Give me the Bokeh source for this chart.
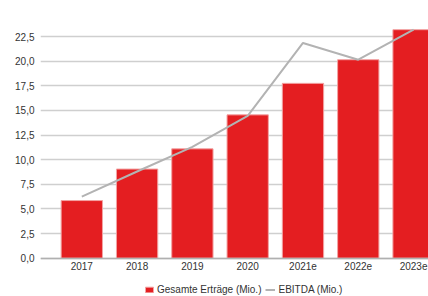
from bokeh.plotting import figure
from bokeh.models import (ColumnDataSource, FixedTicker, CustomJSTickFormatter,
                          Range1d, Legend, LegendItem)
from bokeh.embed import file_html
from bokeh.resources import INLINE

# ---- data ----
years = ["2017", "2018", "2019", "2020", "2021e", "2022e", "2023e"]
ertraege = [5.85, 9.05, 11.1, 14.55, 17.75, 20.15, 23.2]
ebitda = [6.25, 8.8, 11.3, 14.45, 21.85, 20.15, 23.2]
y_ticks = [0.0, 2.5, 5.0, 7.5, 10.0, 12.5, 15.0, 17.5, 20.0, 22.5]

xs = list(range(len(years)))
src = ColumnDataSource(dict(x=xs, ertraege=ertraege, ebitda=ebitda))

FONT = "Liberation Sans"
p = figure(frame_width=388, frame_height=288, output_backend="svg", toolbar_location=None,
           x_range=Range1d(-0.747, 6.27), y_range=Range1d(-3.89, 25.35),
           min_border_left=40, min_border_right=0, min_border_top=8,
           min_border_bottom=0)
p.outline_line_color = None
p.background_fill_color = "white"
p.border_fill_color = "white"

bars = p.vbar(x="x", top="ertraege", bottom=0, width=0.747, source=src,
              fill_color="#e41e21", line_color="#f2a3a3", line_width=1)
line = p.line(x="x", y="ebitda", source=src, line_color="#b3b3b3", line_width=2)

# axes
p.xaxis.fixed_location = 0
p.xaxis.ticker = FixedTicker(ticks=xs)
p.xaxis.major_label_overrides = {i: y for i, y in enumerate(years)}
p.xaxis.axis_line_color = "#b0b0b0"
p.xaxis.axis_line_width = 1.5
p.xaxis.major_tick_line_color = None
p.xaxis.minor_tick_line_color = None
p.xaxis.major_tick_out = 0
p.xaxis.major_tick_in = 0
p.xaxis.axis_label_standoff = 0
p.xaxis.major_label_standoff = 4
p.xaxis.major_label_text_font = FONT
p.xaxis.major_label_text_font_size = "10px"
p.xaxis.major_label_text_color = "#333333"

p.yaxis.ticker = FixedTicker(ticks=y_ticks)
p.yaxis.formatter = CustomJSTickFormatter(code="return tick.toFixed(1).replace('.', ',');")
p.yaxis.axis_line_color = None
p.yaxis.major_tick_line_color = None
p.yaxis.minor_tick_line_color = None
p.yaxis.major_tick_out = 0
p.yaxis.major_tick_in = 0
p.yaxis.major_label_standoff = 6
p.yaxis.major_label_text_font = FONT
p.yaxis.major_label_text_font_size = "10px"
p.yaxis.major_label_text_color = "#333333"

p.xgrid.grid_line_color = None
p.ygrid.grid_line_color = "#cfcfcf"
p.ygrid.grid_line_width = 1.5

legend = Legend(items=[LegendItem(label="Gesamte Erträge (Mio.)", renderers=[bars]),
                       LegendItem(label="EBITDA (Mio.)", renderers=[line])],
                orientation="horizontal", location=(104, 1),
                label_text_font=FONT, label_text_font_size="10px",
                label_text_color="#333333", glyph_width=10, glyph_height=7,
                label_height=10, label_standoff=3, spacing=4, padding=1, margin=0,
                border_line_color=None, background_fill_alpha=0)
p.add_layout(legend, "center")

open("out.html", "w").write(file_html(p, INLINE))
